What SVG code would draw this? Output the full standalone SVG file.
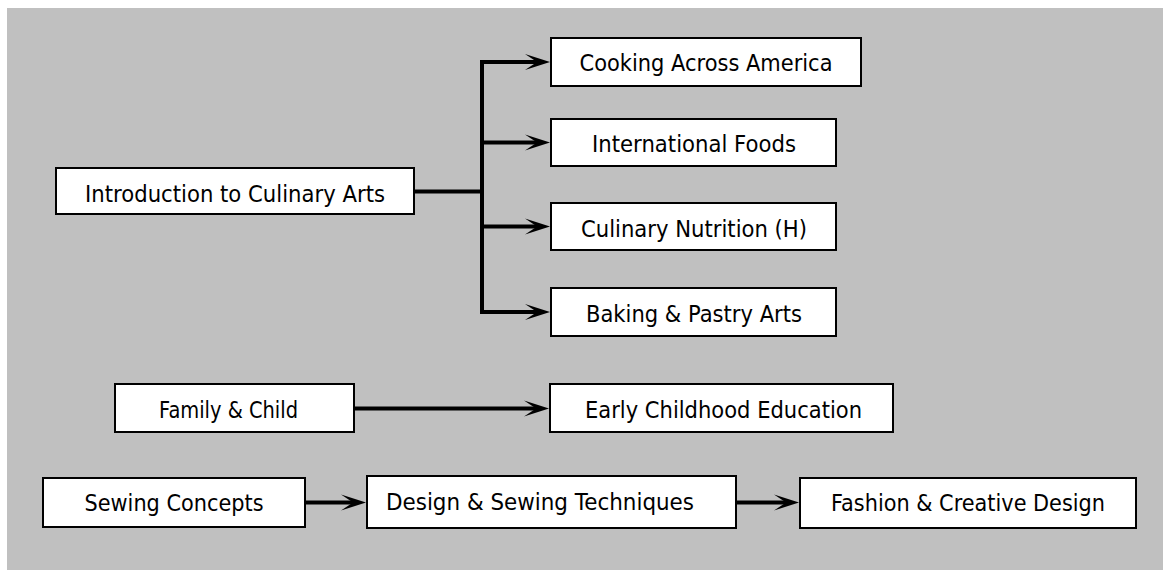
<svg xmlns="http://www.w3.org/2000/svg" width="1163" height="578" viewBox="0 0 1163 578">
<style>
.box{fill:#fff;stroke:#000;stroke-width:2}
.lbl{font-family:"DejaVu Sans","Liberation Sans",sans-serif;font-size:23px;fill:#000;text-anchor:middle}
.ln{stroke:#000;stroke-width:4;fill:none}
.lnh{stroke:#000;stroke-width:4;fill:none;marker-end:url(#ah)}
</style>
<defs>
<marker id="ah" markerUnits="userSpaceOnUse" viewBox="-26 -9 27 18" markerWidth="27" markerHeight="18" refX="-13" refY="0" orient="auto">
<path d="M0,0 L-25,-8 L-13,0 L-25,8 Z" fill="#000"/>
</marker>
</defs>
<rect x="7" y="8" width="1156" height="562" fill="#c0c0c0"/>
<g id="connectors">
<path class="ln" d="M415,191.5 H482 M482,62 V312"/>
<path class="lnh" d="M480,62 H537"/>
<path class="lnh" d="M480,142.5 H537"/>
<path class="lnh" d="M480,226.5 H537"/>
<path class="lnh" d="M480,312 H537"/>
<path class="lnh" d="M355,408.5 H536"/>
<path class="lnh" d="M306,502.5 H353"/>
<path class="lnh" d="M737,502.5 H786"/>
</g>
<g id="intro"><rect class="box" x="56" y="168" width="358" height="46"/><text class="lbl" x="235" y="201.5" textLength="300" lengthAdjust="spacingAndGlyphs">Introduction to Culinary Arts</text></g>
<g id="cooking"><rect class="box" x="551" y="38" width="310" height="48"/><text class="lbl" x="706" y="71" textLength="253" lengthAdjust="spacingAndGlyphs">Cooking Across America</text></g>
<g id="international"><rect class="box" x="551" y="119" width="285" height="47"/><text class="lbl" x="694" y="152" textLength="204" lengthAdjust="spacingAndGlyphs">International Foods</text></g>
<g id="nutrition"><rect class="box" x="551" y="203" width="285" height="47"/><text class="lbl" x="694" y="236.5" textLength="226" lengthAdjust="spacingAndGlyphs">Culinary Nutrition (H)</text></g>
<g id="baking"><rect class="box" x="551" y="288" width="285" height="48"/><text class="lbl" x="694" y="321.5" textLength="216" lengthAdjust="spacingAndGlyphs">Baking &amp; Pastry Arts</text></g>
<g id="family"><rect class="box" x="115" y="384" width="239" height="48"/><text class="lbl" x="228.5" y="418" textLength="139" lengthAdjust="spacingAndGlyphs">Family &amp; Child</text></g>
<g id="early"><rect class="box" x="550" y="384" width="343" height="48"/><text class="lbl" x="723.5" y="418" textLength="277" lengthAdjust="spacingAndGlyphs">Early Childhood Education</text></g>
<g id="sewing"><rect class="box" x="43" y="478" width="262" height="49"/><text class="lbl" x="174" y="511" textLength="179" lengthAdjust="spacingAndGlyphs">Sewing Concepts</text></g>
<g id="design"><rect class="box" x="367" y="476" width="369" height="52"/><text class="lbl" x="540" y="509.5" textLength="308" lengthAdjust="spacingAndGlyphs">Design &amp; Sewing Techniques</text></g>
<g id="fashion"><rect class="box" x="800" y="478" width="336" height="50"/><text class="lbl" x="968" y="511" textLength="274" lengthAdjust="spacingAndGlyphs">Fashion &amp; Creative Design</text></g>
</svg>
